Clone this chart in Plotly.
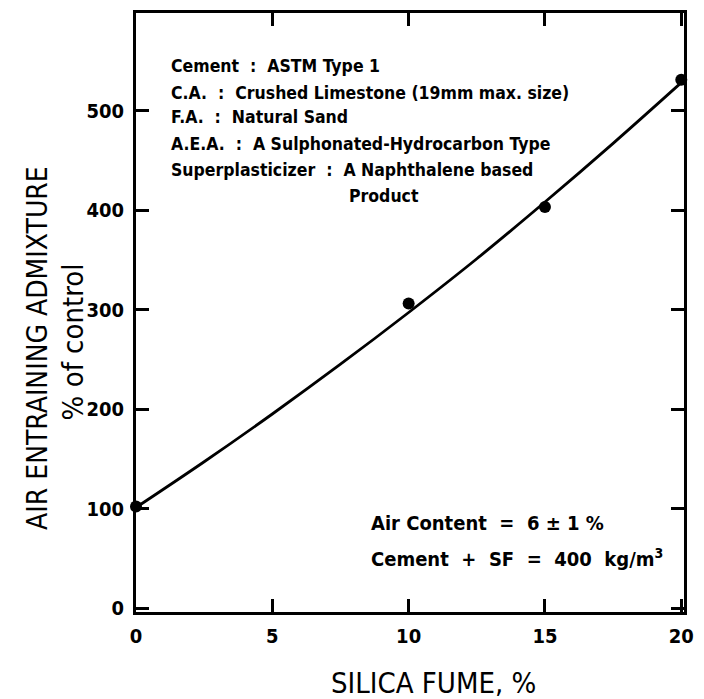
import plotly.graph_objects as go

# Measured data points
silica_fume = [0, 10, 15, 20]
aea_pct = [102, 306, 403, 531]

# Curve as drawn
curve_x = [0, 2.5, 5, 7.5, 10, 12.5, 15, 17.5, 20]
curve_y = [101, 147, 195, 245, 297, 351, 408, 467, 528]

x_ticks = [0, 5, 10, 15, 20]
y_ticks = [0, 100, 200, 300, 400, 500]

notes = [
    "Cement  :  ASTM Type 1",
    "C.A.  :  Crushed Limestone (19mm max. size)",
    "F.A.  :  Natural Sand",
    "A.E.A.  :  A Sulphonated-Hydrocarbon Type",
    "Superplasticizer  :  A Naphthalene based",
]

FONT = "DejaVu Sans Condensed"

def py(px):
    return (612 - px) / 602.0

def pxx(px):
    return (px - 136) / 557.0

fig = go.Figure()
fig.add_trace(go.Scatter(x=curve_x, y=curve_y, mode="lines",
                         line=dict(color="black", width=2.8, shape="spline", smoothing=1.0),
                         hoverinfo="skip", showlegend=False, cliponaxis=False))
fig.add_trace(go.Scatter(x=silica_fume, y=aea_pct, mode="markers",
                         marker=dict(color="black", size=12),
                         cliponaxis=False, showlegend=False))

for t, ypx in zip(notes, [63, 90, 115, 142, 168]):
    fig.add_annotation(x=pxx(170), y=py(ypx), xref="paper", yref="paper", text=t, showarrow=False,
                       xanchor="left", yanchor="middle",
                       font=dict(family=FONT, size=17.5, color="black", weight="bold"))
fig.add_annotation(x=pxx(388), y=py(194), xref="paper", yref="paper", text="Product", showarrow=False,
                   xanchor="center", yanchor="middle",
                   font=dict(family=FONT, size=17.5, color="black", weight="bold"))

fig.add_annotation(x=pxx(373), y=py(523), xref="paper", yref="paper", text="Air Content  =  6 ± 1 %",
                   showarrow=False, xanchor="left", yanchor="middle",
                   font=dict(family=FONT, size=20, color="black", weight="bold"))
fig.add_annotation(x=pxx(373), y=py(558), xref="paper", yref="paper",
                   text="Cement  +  SF  =  400  kg/m<sup>3</sup>",
                   showarrow=False, xanchor="left", yanchor="middle",
                   font=dict(family=FONT, size=20, color="black", weight="bold"))

# Axis titles
fig.add_annotation(x=pxx(438), y=py(683), xref="paper", yref="paper", text="SILICA FUME, %",
                   showarrow=False, xanchor="center", yanchor="middle",
                   font=dict(family=FONT, size=29, color="black"))
fig.add_annotation(x=pxx(36), y=py(347), xref="paper", yref="paper", text="AIR ENTRAINING ADMIXTURE",
                   showarrow=False, xanchor="center", yanchor="middle", textangle=-90,
                   font=dict(family=FONT, size=28, color="black"))
fig.add_annotation(x=pxx(72), y=py(341), xref="paper", yref="paper", text="% of control",
                   showarrow=False, xanchor="center", yanchor="middle", textangle=-90,
                   font=dict(family=FONT, size=29, color="black"))

fig.update_layout(
    width=704, height=699,
    margin=dict(l=136, r=11, t=10, b=87),
    paper_bgcolor="white", plot_bgcolor="white",
    font=dict(family=FONT, color="black"),
    xaxis=dict(range=[0, 20.1], tickvals=x_ticks, ticktext=[str(v) for v in x_ticks],
               ticks="inside", ticklen=13, tickwidth=2.5, tickcolor="black",
               showline=True, linewidth=3, linecolor="black", mirror="ticks",
               showgrid=False, zeroline=False, ticklabelstandoff=4,
               tickfont=dict(family=FONT, size=20, color="black", weight="bold")),
    yaxis=dict(range=[-4, 598], tickvals=y_ticks, ticktext=[str(v) for v in y_ticks],
               ticks="inside", ticklen=13, tickwidth=2.5, tickcolor="black",
               showline=True, linewidth=3, linecolor="black", mirror="ticks",
               showgrid=False, zeroline=False, ticklabelstandoff=5,
               tickfont=dict(family=FONT, size=20, color="black", weight="bold")),
)

fig.write_html("out.html")
